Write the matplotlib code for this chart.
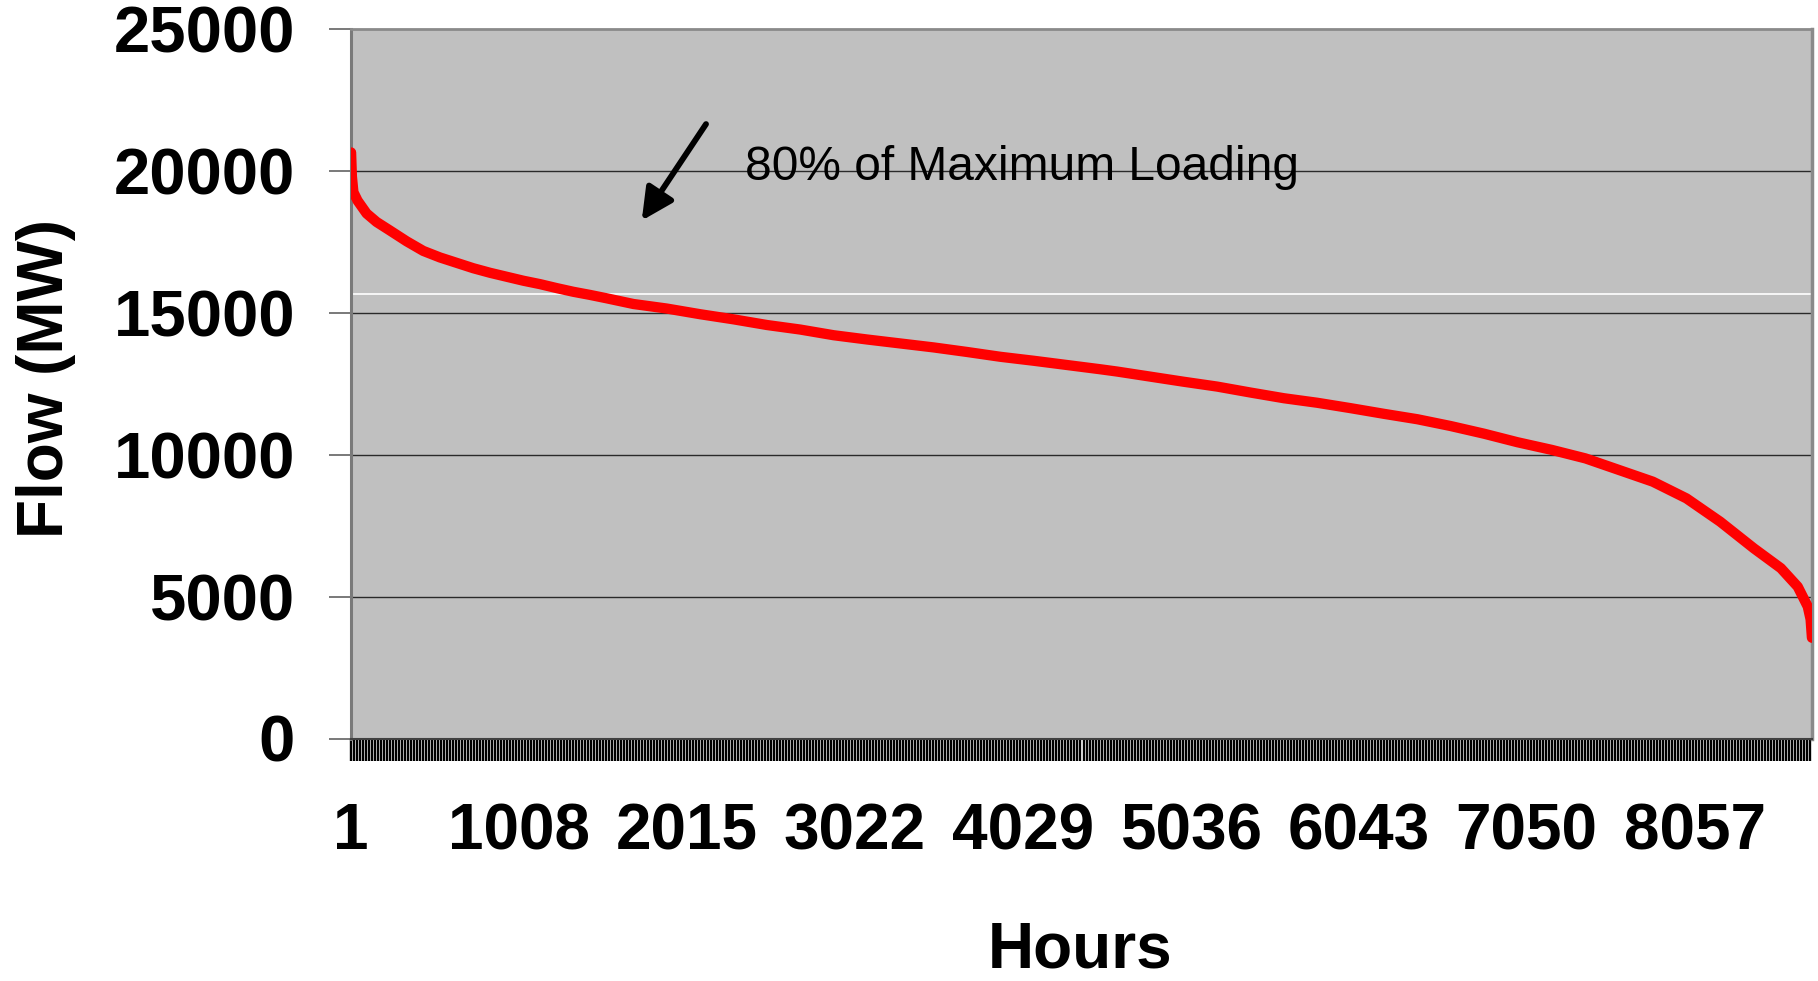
import matplotlib
matplotlib.use("Agg")
import numpy as np
import matplotlib.pyplot as plt
from matplotlib.ticker import FixedLocator

# ---- data (sorted hourly flow, load-duration curve) ----
hours = [1, 6, 15, 40, 94, 154, 234, 334, 434, 534, 634, 734, 834, 934, 1034,
         1134, 1234, 1334, 1434, 1534, 1694, 1894, 2094, 2294, 2494, 2694,
         2894, 3094, 3294, 3494, 3694, 3894, 4094, 4294, 4494, 4594, 4794,
         4994, 5194, 5394, 5594, 5794, 5994, 6194, 6394, 6594, 6794, 6994,
         7200, 7402, 7604, 7806, 8008, 8210, 8412, 8574, 8675, 8735, 8752, 8760]
flow_mw = [20650, 19800, 19250, 18950, 18500, 18200, 17900, 17520, 17180, 16950,
           16760, 16570, 16410, 16270, 16130, 16010, 15870, 15740, 15630, 15510,
           15310, 15150, 14950, 14770, 14570, 14410, 14210, 14060, 13920, 13780,
           13620, 13450, 13310, 13160, 13010, 12930, 12750, 12570, 12400, 12190,
           11990, 11830, 11640, 11440, 11250, 11010, 10740, 10440, 10170, 9870,
           9460, 9050, 8460, 7640, 6700, 6000, 5350, 4650, 4200, 3550]

x_tick_hours = [1, 1008, 2015, 3022, 4029, 5036, 6043, 7050, 8057]
x_tick_labels = [str(h) for h in x_tick_hours]
y_ticks = [0, 5000, 10000, 15000, 20000, 25000]
y_tick_labels = [str(v) for v in y_ticks]
threshold_mw = 15680          # 80% of maximum loading (white reference line)
annotation_text = "80% of Maximum Loading"
total_hours = 8760
tick_step_hours = 18

plt.rcParams['font.family'] = ['Liberation Sans', 'DejaVu Sans']

W, H = 1818, 981
fig = plt.figure(figsize=(W / 100, H / 100), dpi=100)
fig.patch.set_facecolor('white')

left_px, right_px, top_px, bottom_px = 351, 1812, 29, 738.5
ax = fig.add_axes([left_px / W, 1 - bottom_px / H,
                   (right_px - left_px) / W, (bottom_px - top_px) / H])
ax.set_facecolor('#C0C0C0')

for yv in y_ticks[1:-1]:
    ax.axhline(yv, color='#2a2a2a', lw=1.0, zorder=1)
ax.axhline(threshold_mw, color='white', lw=1.2, zorder=1)

ax.plot(hours, flow_mw, color='#FF0000', lw=7.4,
        solid_capstyle='round', solid_joinstyle='round', zorder=3)

ax.set_xlim(0.5, total_hours + 0.5)
ax.set_ylim(0, 25000)

ax.set_yticks(y_ticks)
ax.set_yticklabels(y_tick_labels, fontsize=47, fontweight='bold')
ax.tick_params(axis='y', direction='out', length=15.8, width=1.1,
               color='#555555', pad=24.5)

ax.set_xticks(x_tick_hours)
ax.set_xticklabels(x_tick_labels, fontsize=46, fontweight='bold')
ax.tick_params(axis='x', which='major', length=0, pad=46)
ax.xaxis.set_minor_locator(
    FixedLocator(np.arange(0.5, total_hours + 1, tick_step_hours)))
ax.tick_params(axis='x', which='minor', direction='out', length=15.8,
               width=1.7, color='black')

ax.spines['left'].set_color('#7a7a7a')
ax.spines['left'].set_linewidth(2.2)
ax.spines['top'].set_color('#8a8a8a')
ax.spines['top'].set_linewidth(2.0)
ax.spines['right'].set_color('#8a8a8a')
ax.spines['right'].set_linewidth(2.5)
ax.spines['bottom'].set_color('#404040')
ax.spines['bottom'].set_linewidth(1.5)

ax.set_ylabel("Flow (MW)", fontsize=46, fontweight='bold')
ax.yaxis.set_label_coords(63 / W, 1 - 378 / H, transform=fig.transFigure)
ax.yaxis.label.set_verticalalignment('baseline')
ax.yaxis.label.set_horizontalalignment('center')

ax.set_xlabel("Hours", fontsize=46, fontweight='bold')
ax.xaxis.set_label_coords(1080 / W, 1.0 / H, transform=fig.transFigure)
ax.xaxis.label.set_verticalalignment('bottom')

ax.annotate('', xy=(0.199, 0.730), xytext=(0.243, 0.866),
            xycoords='axes fraction', textcoords='axes fraction',
            arrowprops=dict(arrowstyle='-|>', lw=4.2, color='black',
                            mutation_scale=48, shrinkA=0, shrinkB=0))
ax.text(0.270, 0.787, annotation_text, transform=ax.transAxes,
        fontsize=34.5, va='baseline', ha='left', color='black')

fig.savefig('out.png', dpi=100, facecolor='white')
